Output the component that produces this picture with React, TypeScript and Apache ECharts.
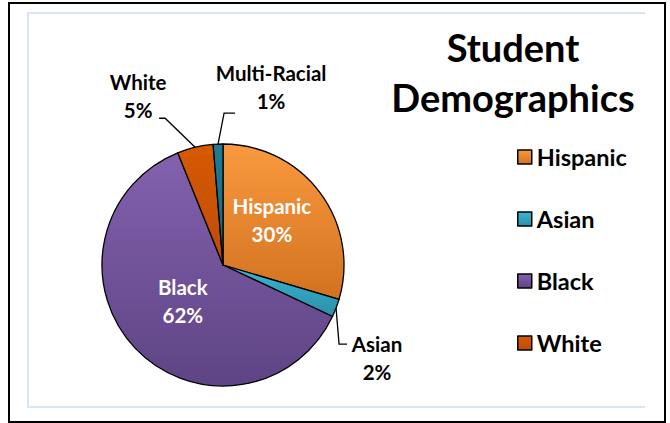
import React, { useEffect, useRef } from "react";
import * as echarts from "echarts";

const categories = ["Hispanic", "Asian", "Black", "White", "Multi-Racial"];
const values = [29.6, 2.4, 61.9, 4.8, 1.3];
const legendItems = ["Hispanic", "Asian", "Black", "White"];
const titleLines = ["Student", "Demographics"];

const colorStops: [string, string][] = [
  ["#F99A40", "#D2721F"],
  ["#3BB6D4", "#2C8FA8"],
  ["#8361AE", "#5E4484"],
  ["#D75A02", "#BD4B08"],
  ["#207C93", "#1A6479"],
];
const insideLabels = new Set(["Hispanic", "Black"]);

const FONT = "Lato";

export default function App() {
  const ref = useRef<HTMLDivElement>(null);
  useEffect(() => {
    if (!ref.current) return;
    const chart = echarts.init(ref.current, undefined, { renderer: "svg" });

    const data = categories.map((name, i) => {
      const inside = insideLabels.has(name);
      return {
        name,
        value: values[i],
        itemStyle: {
          color: new echarts.graphic.LinearGradient(0, 0, 0, 1, [
            { offset: 0, color: colorStops[i][0] },
            { offset: 1, color: colorStops[i][1] },
          ]),
        },
        label: inside
          ? { position: "inside", color: "#ffffff" }
          : { position: "outside", color: "#000000" },
        labelLine: { show: !inside },
      };
    });

    const layoutCfg: Record<number, any> = {
      0: { dx: -2, dy: -7 },
      2: { dx: 6, dy: -8 },
      1: { d1: [3, 36], d2: [8, 0], lx: 30, ly: -14, va: "top" },
      3: { d1: [-30, -29], d2: [-6, 0], lx: -21, ly: 6, va: "bottom" },
      4: { d1: [6, -31], d2: [11, 0], lx: 36, ly: 2, va: "bottom" },
    };

    chart.setOption({
      animation: false,
      backgroundColor: "#ffffff",
      textStyle: { fontFamily: FONT },
      legend: {
        orient: "vertical",
        left: 517,
        top: 145,
        padding: 0,
        itemWidth: 14,
        itemHeight: 14,
        itemGap: 38,
        icon: "rect",
        data: legendItems,
        selectedMode: false,
        itemStyle: { borderColor: "#000000", borderWidth: 1.5 },
        textStyle: {
          fontFamily: FONT,
          fontWeight: "bold",
          fontSize: 23.5,
          lineHeight: 24,
          color: "#000000",
        },
      },
      graphic: [
        {
          type: "rect",
          shape: { x: 9, y: 3, width: 656, height: 419 },
          style: { fill: "none", stroke: "#000000", lineWidth: 2 },
          silent: true,
        },
        {
          type: "polyline",
          shape: { points: [[645, 13], [28, 13], [28, 407], [645, 407]] },
          style: { fill: "none", stroke: "#D9E4F5", lineWidth: 2 },
          silent: true,
        },
        ...titleLines.map((t, i) => ({
          type: "text",
          x: 513,
          y: 47 + i * 50,
          style: {
            text: t,
            fontFamily: FONT,
            fontWeight: "bold",
            fontSize: 38,
            fill: "#000000",
            align: "center",
            verticalAlign: "middle",
          },
        })),
      ],
      series: [
        {
          type: "pie",
          center: [223, 265],
          radius: 121,
          startAngle: 90,
          clockwise: true,
          data,
          itemStyle: { borderColor: "#000000", borderWidth: 1.3 },
          label: {
            show: true,
            fontFamily: FONT,
            fontWeight: "bold",
            fontSize: 20.5,
            lineHeight: 28,
            align: "center",
            formatter: (p: any) => `${p.name}\n${Math.round(p.percent)}%`,
          },
          labelLine: {
            show: true,
            length: 30,
            length2: 8,
            lineStyle: { color: "#000000", width: 1.3 },
          },
          labelLayout: (params: any) => {
            const cfg = layoutCfg[params.dataIndex];
            if (!cfg) return {};
            if (cfg.dx !== undefined) return { dx: cfg.dx, dy: cfg.dy };
            const pts = params.labelLinePoints;
            if (!pts || !pts[0]) return {};
            const p0 = pts[0];
            const p1 = [p0[0] + cfg.d1[0], p0[1] + cfg.d1[1]];
            const p2 = [p1[0] + cfg.d2[0], p1[1] + cfg.d2[1]];
            return {
              x: p2[0] + cfg.lx,
              y: p2[1] + cfg.ly,
              align: "center",
              verticalAlign: cfg.va,
              labelLinePoints: [p0, p1, p2],
            };
          },
        },
      ],
    });
    return () => chart.dispose();
  }, []);
  return (
    <div
      ref={ref}
      style={{ position: "fixed", left: 0, top: 0, width: 670, height: 423 }}
    />
  );
}
